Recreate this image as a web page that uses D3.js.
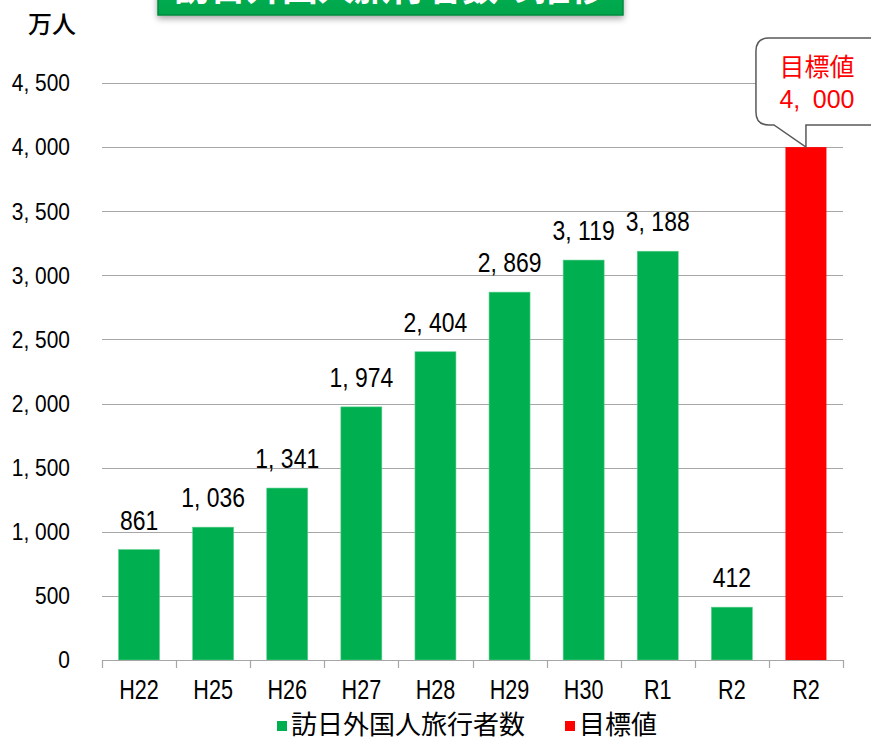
<!DOCTYPE html>
<html>
<head>
<meta charset="utf-8">
<script src="https://cdn.jsdelivr.net/npm/d3@7"></script>
<style>
  html, body { margin: 0; padding: 0; background: #fff; }
  svg { display: block; }
  .num { font-family: "Liberation Sans", Arial, sans-serif; }
  .jp { font-family: "Noto Sans CJK JP", "Noto Sans CJK SC", sans-serif; }
</style>
</head>
<body>
<div id="chart"></div>
<script>
// データ（万人）
var categories = ["H22", "H25", "H26", "H27", "H28", "H29", "H30", "R1", "R2", "R2"];
var visitors   = [861, 1036, 1341, 1974, 2404, 2869, 3119, 3188, 412, null];
var target     = [null, null, null, null, null, null, null, null, null, 4000];
var yTicks     = [0, 500, 1000, 1500, 2000, 2500, 3000, 3500, 4000, 4500];
var seriesNames = ["訪日外国人旅行者数", "目標値"];
var seriesColors = ["#00B050", "#FF0000"];
var titleText = "訪日外国人旅行者数の推移";
var unitText = "万人";

var width = 871, height = 738;
var margin = { top: 83, right: 28, bottom: 78, left: 102 };
var plotRight = width - margin.right;   // 843
var plotBottom = height - margin.bottom; // 660

var svg = d3.select("#chart").append("svg")
  .attr("width", width)
  .attr("height", height);

var defs = svg.append("defs");
var grad = defs.append("linearGradient").attr("id", "titleGrad")
  .attr("x1", 0).attr("y1", 0).attr("x2", 0).attr("y2", 1);
grad.append("stop").attr("offset", "0%").attr("stop-color", "#00B957");
grad.append("stop").attr("offset", "100%").attr("stop-color", "#00A54B");
var shadow = defs.append("filter").attr("id", "shadow")
  .attr("x", "-10%").attr("y", "-50%").attr("width", "120%").attr("height", "250%");
shadow.append("feDropShadow").attr("dx", 0).attr("dy", 3).attr("stdDeviation", 3)
  .attr("flood-color", "#000").attr("flood-opacity", 0.35);

// 比例尺
var idx = d3.range(categories.length);
var x = d3.scaleBand()
  .domain(idx)
  .range([margin.left, plotRight])
  .paddingInner(0.447)
  .paddingOuter(0.2235);

var y = d3.scaleLinear()
  .domain([0, 4500])
  .range([plotBottom, margin.top]);

var fmt = function(v) { return d3.format(",")(v).replace(",", ", "); };

// 縦長の数字フォント風にする（横方向だけ縮める）
function narrow(sel, sx) {
  sel.attr("transform", `scale(${sx},1)`);
}

// グリッド線
svg.append("g").selectAll("line")
  .data(yTicks.filter(d => d > 0))
  .join("line")
  .attr("x1", margin.left).attr("x2", plotRight)
  .attr("y1", d => Math.round(y(d)) + 0.5).attr("y2", d => Math.round(y(d)) + 0.5)
  .attr("stroke", "#A6A6A6").attr("stroke-width", 1.2);

// y軸ラベル
svg.append("g").selectAll("g")
  .data(yTicks)
  .join("g")
  .attr("transform", d => `translate(70,${y(d)})`)
  .append("text")
  .attr("class", "num")
  .attr("text-anchor", "end")
  .attr("dy", "0.36em")
  .attr("font-size", 23)
  .attr("fill", "#000")
  .text(fmt)
  .call(narrow, 0.91);

// 棒
var bars = svg.append("g");
bars.selectAll("rect.v")
  .data(idx.filter(i => visitors[i] != null))
  .join("rect")
  .attr("class", "v")
  .attr("x", i => x(i))
  .attr("y", i => y(visitors[i]))
  .attr("width", x.bandwidth())
  .attr("height", i => plotBottom - y(visitors[i]))
  .attr("fill", seriesColors[0])
  .attr("stroke", "#5ccf8c").attr("stroke-width", 0.6);

bars.selectAll("rect.t")
  .data(idx.filter(i => target[i] != null))
  .join("rect")
  .attr("class", "t")
  .attr("x", i => x(i))
  .attr("y", i => y(target[i]))
  .attr("width", x.bandwidth())
  .attr("height", i => plotBottom - y(target[i]))
  .attr("fill", seriesColors[1]);

// x軸
var xAxis = d3.axisBottom(x).tickFormat(i => categories[i]).tickSize(0).tickPadding(19);
var xg = svg.append("g")
  .attr("transform", `translate(0,${plotBottom})`)
  .call(xAxis);
xg.select(".domain").attr("stroke", "#A6A6A6").attr("stroke-width", 1.2)
  .attr("d", `M${margin.left},0.5H${plotRight}`);
xg.selectAll(".tick text").attr("class", "num").attr("font-size", 27).attr("fill", "#000")
  .attr("dy", "0.75em")
  .call(narrow, 0.8);
// 区切り目盛
xg.selectAll("line.sep")
  .data(d3.range(categories.length + 1))
  .join("line")
  .attr("class", "sep")
  .attr("x1", i => Math.round(margin.left + i * x.step()) + 0.5)
  .attr("x2", i => Math.round(margin.left + i * x.step()) + 0.5)
  .attr("y1", 0).attr("y2", 8)
  .attr("stroke", "#A6A6A6").attr("stroke-width", 1.2);

// データラベル
svg.append("g").selectAll("g")
  .data(idx.filter(i => visitors[i] != null))
  .join("g")
  .attr("transform", i => `translate(${x(i) + x.bandwidth() / 2},${y(visitors[i]) - 20})`)
  .append("text")
  .attr("class", "num")
  .attr("text-anchor", "middle")
  .attr("font-size", 27)
  .attr("fill", "#000")
  .text(i => fmt(visitors[i]))
  .call(narrow, 0.85);

// 吹き出し（目標値）
var ti = idx.find(i => target[i] != null);
var tipX = x(ti) + x.bandwidth() / 2;
var tipY = y(target[ti]);
var bx0 = tipX - 50, bx1 = tipX + 80, by0 = 38, by1 = 125, r = 13;
var callout = svg.append("g");
callout.append("path")
  .attr("d", `M${bx0 + r},${by0} H${bx1 - r} Q${bx1},${by0} ${bx1},${by0 + r} V${by1 - r} Q${bx1},${by1} ${bx1 - r},${by1}
    H${tipX} V${tipY} L${tipX - 32},${by1} H${bx0 + r} Q${bx0},${by1} ${bx0},${by1 - r} V${by0 + r} Q${bx0},${by0} ${bx0 + r},${by0} Z`)
  .attr("fill", "#fff")
  .attr("stroke", "#595959")
  .attr("stroke-width", 1.5);
callout.append("text")
  .attr("class", "jp")
  .attr("x", tipX + 11).attr("y", 76)
  .attr("text-anchor", "middle")
  .attr("font-size", 25)
  .attr("fill", seriesColors[1])
  .text(seriesNames[1]);
callout.append("text")
  .attr("class", "num")
  .attr("x", tipX + 11).attr("y", 108)
  .attr("text-anchor", "middle")
  .attr("font-size", 25)
  .attr("fill", seriesColors[1])
  .text(d3.format(",")(target[ti]).replace(",", ",\u2002"));

// 単位
svg.append("text")
  .attr("class", "jp")
  .attr("x", 28).attr("y", 33)
  .attr("font-size", 24)
  .attr("font-weight", 500)
  .attr("fill", "#000")
  .text(unitText);

// タイトル（上部が切れている）
var tg = svg.append("g");
tg.append("rect")
  .attr("x", 158).attr("y", -40)
  .attr("width", 465).attr("height", 55)
  .attr("fill", "url(#titleGrad)")
  .attr("stroke", "#078a3f").attr("stroke-width", 1.5)
  .attr("filter", "url(#shadow)");
tg.append("text")
  .attr("class", "jp")
  .attr("x", 390).attr("y", 1)
  .attr("text-anchor", "middle")
  .attr("font-size", 36)
  .attr("font-weight", 700)
  .attr("fill", "#fff")
  .text(titleText);

// 凡例
var legend = svg.append("g");
var lx = [277, 565];
seriesNames.forEach(function(name, k) {
  legend.append("rect")
    .attr("x", lx[k]).attr("y", 721)
    .attr("width", 10).attr("height", 10)
    .attr("fill", seriesColors[k]);
  legend.append("text")
    .attr("class", "jp")
    .attr("x", lx[k] + 14).attr("y", 734)
    .attr("font-size", 26)
    .attr("fill", "#000")
    .text(name);
});
</script>
</body>
</html>
